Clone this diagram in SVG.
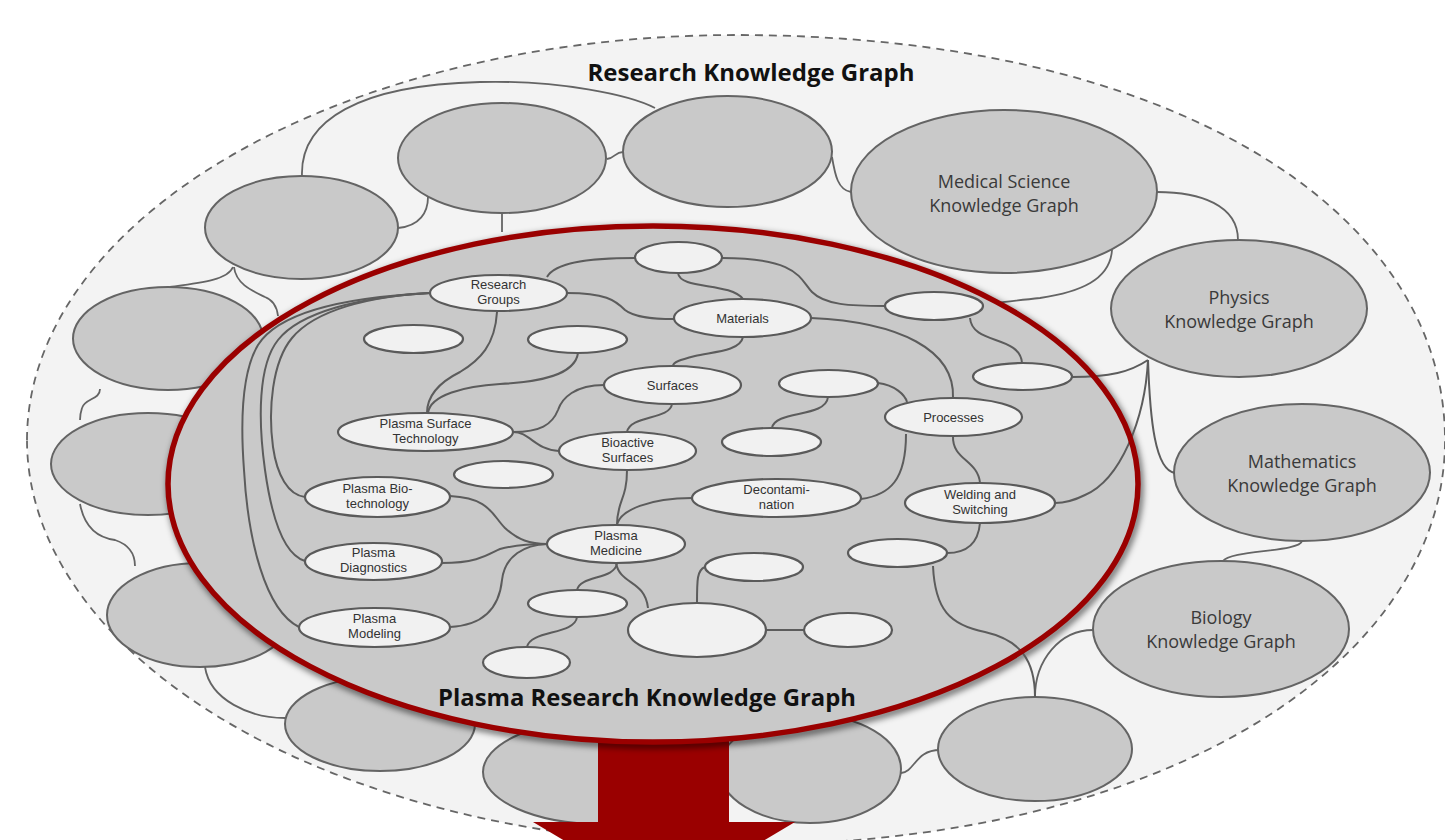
<svg xmlns="http://www.w3.org/2000/svg" width="1445" height="840" viewBox="0 0 1445 840">
<defs>
<style>
.bg{fill:#f3f3f3;stroke:#666;stroke-width:1.8;stroke-dasharray:8 6}
.on{fill:#c9c9c9;stroke:#646464;stroke-width:2}
.in{fill:#f1f1f1;stroke:#5a5a5a;stroke-width:2.2}
.c{fill:none;stroke:#646464;stroke-width:1.8}
.ci{fill:none;stroke:#5c5c5c;stroke-width:2}
.lbl{font-family:"Open Sans","Liberation Sans",sans-serif;font-size:18px;fill:#3a3a3a;text-anchor:middle}
.sl{font-family:"Liberation Sans",Arial,sans-serif;font-size:13px;fill:#333;text-anchor:middle}
.t{font-family:"Open Sans","Liberation Sans",sans-serif;font-weight:bold;font-size:24px;fill:#111;text-anchor:middle}
.red{fill:#9a0000}
</style>
<filter id="sh" x="-10%" y="-10%" width="120%" height="120%">
<feGaussianBlur stdDeviation="3"/>
</filter>
</defs>
<rect width="1445" height="840" fill="#ffffff"/>
<path class="bg" d="M27,440 A709,405 0 0 1 736,35 C1170,35 1445,210 1445,440 C1445,660 1170,845 736,845 A709,405 0 0 1 27,440 Z"/>
<text class="t" x="751" y="81" textLength="327" lengthAdjust="spacingAndGlyphs">Research Knowledge Graph</text>

<g id="outer-connectors">
<path class="c" d="M302,176 C300,120 360,85 480,82 C560,80 630,95 655,108"/>
<path class="c" d="M398,228 C420,226 428,212 428,197"/>
<path class="c" d="M607,159 C615,158 615,152 623,152"/>
<path class="c" d="M502,213 L502,232"/>
<path class="c" d="M832,157 C835,175 838,190 851,192"/>
<path class="c" d="M1157,192 C1200,192 1238,205 1238,240"/>
<path class="c" d="M1112,250 C1110,280 1080,292 1040,298 C1020,300 1005,302 995,303"/>
<path class="c" d="M1302,541 C1300,552 1230,550 1223,561"/>
<path class="c" d="M1035,697 C1035,660 1060,630 1093,630"/>
<path class="c" d="M901,773 C915,772 915,750 940,750"/>
<path class="c" d="M205,667 C210,700 250,718 285,718"/>
<path class="c" d="M80,504 C85,530 100,538 115,540 C130,545 135,555 135,566"/>
<path class="c" d="M100,389 C100,400 85,398 82,408 C80,414 80,420 80,420"/>
<path class="c" d="M233,267 C228,280 200,283 170,287"/>
<path class="c" d="M234,267 C236,285 255,292 265,297 C273,300 277,307 278,316"/>
</g>

<g id="n-o14"><ellipse class="on" cx="168" cy="338.5" rx="95" ry="51.5"/></g>
<g id="n-o13"><ellipse class="on" cx="148" cy="464" rx="97" ry="51"/></g>
<g id="n-o12"><ellipse class="on" cx="200" cy="615" rx="93" ry="52"/></g>
<g id="n-o11"><ellipse class="on" cx="380" cy="724" rx="95" ry="47"/></g>
<g id="n-o10"><ellipse class="on" cx="600" cy="772" rx="117" ry="52"/></g>
<g id="n-o9"><ellipse class="on" cx="810" cy="769" rx="91" ry="54"/></g>
<g id="n-o8"><ellipse class="on" cx="1035" cy="749" rx="97" ry="52"/></g>
<g id="n-o1"><ellipse class="on" cx="301.5" cy="227.5" rx="96.5" ry="51.5"/></g>
<g id="n-o2"><ellipse class="on" cx="502" cy="158" rx="104" ry="55"/></g>
<g id="n-o3"><ellipse class="on" cx="727.5" cy="151.5" rx="104.5" ry="55.5"/></g>
<g id="n-medical"><ellipse class="on" cx="1004" cy="191.5" rx="153" ry="81.5"/>
<text class="lbl" x="1004" y="188">Medical Science</text><text class="lbl" x="1004" y="212">Knowledge Graph</text></g>
<g id="n-physics"><ellipse class="on" cx="1239" cy="308.5" rx="128" ry="68.5"/>
<text class="lbl" x="1239" y="304">Physics</text><text class="lbl" x="1239" y="328">Knowledge Graph</text></g>
<g id="n-math"><ellipse class="on" cx="1302" cy="472.5" rx="128" ry="68.5"/>
<text class="lbl" x="1302" y="468">Mathematics</text><text class="lbl" x="1302" y="492">Knowledge Graph</text></g>
<g id="n-biology"><ellipse class="on" cx="1221" cy="629" rx="128" ry="68"/>
<text class="lbl" x="1221" y="624">Biology</text><text class="lbl" x="1221" y="648">Knowledge Graph</text></g>

<g id="arrow"><polygon class="red" points="598,700 729,700 729,822 795,822 664,900 533,822 598,822"/></g>

<g id="plasma-graph">
<ellipse cx="655" cy="487" rx="485" ry="258" fill="none" stroke="#000" stroke-opacity="0.55" stroke-width="7" filter="url(#sh)"/>
<ellipse cx="653" cy="484" rx="485" ry="258" fill="#c9c9c9"/>
</g>

<g id="inner-connectors">
<path class="ci" d="M635,258 C590,258 555,262 547,277"/>
<path class="ci" d="M722,258 C800,258 800,280 812,292 C825,305 850,306 885,306"/>
<path class="ci" d="M678,273 C680,290 730,282 743,299"/>
<path class="ci" d="M567,293 C605,293 615,300 625,310 C635,318 655,319 674,319"/>
<path class="ci" d="M497,312 C495,345 480,360 460,372 C440,382 427,395 427,413"/>
<path class="ci" d="M578,353 C575,375 540,382 500,384 C465,386 430,395 428,413"/>
<path class="ci" d="M743,337 C740,352 710,352 695,356 C680,360 673,362 673,366"/>
<path class="ci" d="M811,318 C900,322 955,350 953,398"/>
<path class="ci" d="M604,385 C575,385 562,398 558,410 C552,425 540,432 513,432"/>
<path class="ci" d="M513,432 C530,432 535,450 559,451"/>
<path class="ci" d="M672,404 C670,420 630,415 627,432"/>
<path class="ci" d="M828,397 C826,418 775,410 772,428"/>
<path class="ci" d="M878,383 C895,385 905,395 907,402"/>
<path class="ci" d="M906,434 C906,480 890,495 861,499"/>
<path class="ci" d="M953,436 C952,460 978,460 980,483"/>
<path class="ci" d="M627,470 C627,500 617,500 617,525"/>
<path class="ci" d="M692,498 C650,498 620,510 617,525"/>
<path class="ci" d="M450,496 C490,498 492,515 505,528 C518,540 530,544 547,544"/>
<path class="ci" d="M442,563 C480,563 490,553 500,549 C515,545 530,544 547,544"/>
<path class="ci" d="M450,627 C490,625 500,600 502,580 C505,555 525,545 547,544"/>
<path class="ci" d="M617,563 C615,580 580,575 577,590"/>
<path class="ci" d="M616,563 C620,585 645,580 648,608"/>
<path class="ci" d="M577,617 C575,635 530,630 527,647"/>
<path class="ci" d="M697,603 C697,580 697,570 705,567"/>
<path class="ci" d="M766,630 L804,630"/>
<path class="ci" d="M980,523 C978,545 965,553 947,553"/>
<path class="ci" d="M933,566 C935,610 950,625 985,632 C1020,640 1035,660 1035,697"/>
<path class="ci" d="M970,318 C972,345 1020,335 1022,363"/>
<path class="ci" d="M1072,377 C1110,377 1130,372 1148,360"/>
<path class="ci" d="M1148,360 C1145,420 1120,480 1085,495 C1075,500 1065,503 1055,503"/>
<path class="ci" d="M1148,360 C1150,420 1155,470 1175,473"/>
<path class="ci" d="M430,293 C350,297 280,310 258,345 C240,375 241,430 244,470 C248,540 265,610 299,627"/>
<path class="ci" d="M430,293 C360,297 300,312 278,340 C258,365 258,420 265,470 C272,520 285,555 305,561"/>
<path class="ci" d="M430,293 C370,296 315,310 292,338 C272,362 268,410 273,447 C277,475 288,495 305,497"/>
</g>

<g id="n-top"><ellipse class="in" cx="678.5" cy="257.5" rx="43.5" ry="15.5"/></g>
<g id="n-research-groups"><ellipse class="in" cx="498.5" cy="293" rx="68.5" ry="18"/>
<text class="sl" x="498.5" y="288.5">Research</text><text class="sl" x="498.5" y="303.5">Groups</text></g>
<g id="n-materials"><ellipse class="in" cx="742.5" cy="318" rx="68.5" ry="19"/>
<text class="sl" x="742.5" y="322.5">Materials</text></g>
<g id="n-e1"><ellipse class="in" cx="934" cy="306" rx="49" ry="14"/></g>
<g id="n-e2"><ellipse class="in" cx="577.5" cy="339.5" rx="49.5" ry="13.5"/></g>
<g id="n-e3"><ellipse class="in" cx="413.5" cy="339" rx="49.5" ry="14"/></g>
<g id="n-surfaces"><ellipse class="in" cx="672.5" cy="385" rx="68.5" ry="19"/>
<text class="sl" x="672.5" y="389.5">Surfaces</text></g>
<g id="n-e4"><ellipse class="in" cx="828.5" cy="383.5" rx="49.5" ry="13.5"/></g>
<g id="n-e5"><ellipse class="in" cx="1022.5" cy="376.5" rx="49.5" ry="13.5"/></g>
<g id="n-processes"><ellipse class="in" cx="953.5" cy="417" rx="68.5" ry="19"/>
<text class="sl" x="953.5" y="421.5">Processes</text></g>
<g id="n-e6"><ellipse class="in" cx="771.5" cy="442" rx="49.5" ry="14"/></g>
<g id="n-bioactive"><ellipse class="in" cx="627.5" cy="451" rx="68.5" ry="19"/>
<text class="sl" x="627.5" y="446.5">Bioactive</text><text class="sl" x="627.5" y="461.5">Surfaces</text></g>
<g id="n-pst"><ellipse class="in" cx="425.5" cy="432" rx="87.5" ry="19"/>
<text class="sl" x="425.5" y="427.5">Plasma Surface</text><text class="sl" x="425.5" y="442.5">Technology</text></g>
<g id="n-e7"><ellipse class="in" cx="503.5" cy="474.5" rx="49.5" ry="13.5"/></g>
<g id="n-decon"><ellipse class="in" cx="776.5" cy="498" rx="84.5" ry="19"/>
<text class="sl" x="776.5" y="493.5">Decontami-</text><text class="sl" x="776.5" y="508.5">nation</text></g>
<g id="n-welding"><ellipse class="in" cx="980" cy="503" rx="75" ry="20"/>
<text class="sl" x="980" y="498.5">Welding and</text><text class="sl" x="980" y="513.5">Switching</text></g>
<g id="n-biotech"><ellipse class="in" cx="377.5" cy="497" rx="72.5" ry="20"/>
<text class="sl" x="377.5" y="492.5">Plasma Bio-</text><text class="sl" x="377.5" y="507.5">technology</text></g>
<g id="n-diag"><ellipse class="in" cx="373.5" cy="561.5" rx="68.5" ry="18.5"/>
<text class="sl" x="373.5" y="557">Plasma</text><text class="sl" x="373.5" y="572">Diagnostics</text></g>
<g id="n-model"><ellipse class="in" cx="374.5" cy="627.5" rx="75.5" ry="19.5"/>
<text class="sl" x="374.5" y="623">Plasma</text><text class="sl" x="374.5" y="638">Modeling</text></g>
<g id="n-medicine"><ellipse class="in" cx="616" cy="544" rx="69" ry="19"/>
<text class="sl" x="616" y="539.5">Plasma</text><text class="sl" x="616" y="554.5">Medicine</text></g>
<g id="n-e8"><ellipse class="in" cx="577.5" cy="603.5" rx="49.5" ry="13.5"/></g>
<g id="n-e9"><ellipse class="in" cx="526.5" cy="662.5" rx="43.5" ry="15.5"/></g>
<g id="n-e10"><ellipse class="in" cx="697" cy="630" rx="69" ry="27"/></g>
<g id="n-e11"><ellipse class="in" cx="848" cy="630" rx="44" ry="17"/></g>
<g id="n-e12"><ellipse class="in" cx="754" cy="567" rx="49" ry="14"/></g>
<g id="n-e13"><ellipse class="in" cx="897.5" cy="553" rx="49.5" ry="14"/></g>

<g id="plasma-border">
<ellipse cx="653" cy="484" rx="485" ry="258" fill="none" stroke="#9a0000" stroke-width="5.5"/>
<text class="t" x="647" y="706" textLength="418" lengthAdjust="spacingAndGlyphs">Plasma Research Knowledge Graph</text>
</g>
</svg>
